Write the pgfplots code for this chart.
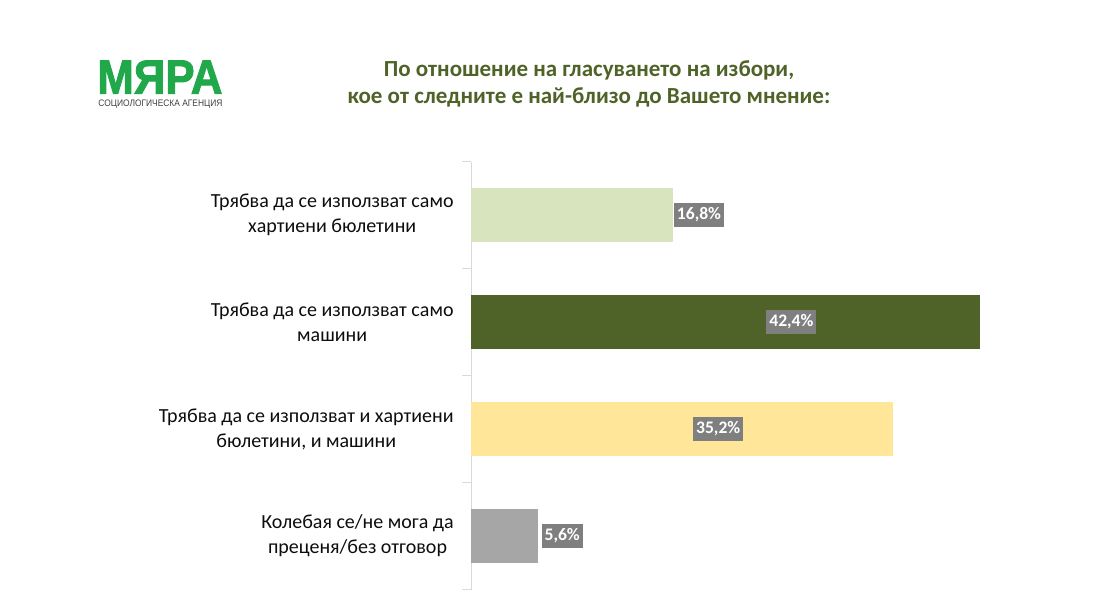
\documentclass[border=0pt]{standalone}
\usepackage{fontspec}
\setmainfont{Carlito}
\newfontfamily\logofont{Liberation Sans}
\newfontfamily\logofontb{Liberation Sans Bold}[FakeBold=2]
\usepackage{graphicx}
\usepackage{pgfplots}
\pgfplotsset{compat=1.18}
\definecolor{bargreen}{HTML}{D7E4BD}
\definecolor{barolive}{HTML}{4F6228}
\definecolor{baryellow}{HTML}{FFE699}
\definecolor{bargray}{HTML}{A6A6A6}
\definecolor{lblgray}{HTML}{7F7F7F}
\definecolor{titlecol}{HTML}{4F6228}
\definecolor{logogreen}{HTML}{20A84B}
\definecolor{axisgray}{HTML}{D9D9D9}
\begin{document}
\begin{tikzpicture}
\path[use as bounding box] (0,0) rectangle (557pt,301pt);
% logo
\node[anchor=south west, inner sep=0pt, text=logogreen] at (48.5pt,254pt)
  {\resizebox{62.5pt}{16.5pt}{\logofontb МЯРА}};
\node[anchor=north west, inner sep=0pt, text=black!75] at (49pt,251.2pt)
  {\resizebox{62pt}{3.3pt}{\logofont СОЦИОЛОГИЧЕСКА АГЕНЦИЯ}};
% title
\node[align=center, text=titlecol, font=\bfseries\fontsize{11.5}{13.5}\selectfont] at (294.5pt,259pt)
  {По отношение на гласуването на избори,\\кое от следните е най-близо до Вашето мнение:};
\begin{axis}[
  at={(235.5pt,6.25pt)}, anchor=south west,
  scale only axis, width=270pt, height=214pt,
  xmin=0, xmax=45, ymin=-0.5, ymax=3.5, y dir=reverse,
  axis x line=none, axis y line=left,
  y axis line style={draw=axisgray, line width=0.5pt, -},
  ytick={0,1,2,3},
  yticklabels={{Трябва да се използват само\\хартиени бюлетини},
               {Трябва да се използват само\\машини},
               {Трябва да се използват и хартиени\\бюлетини, и машини},
               {Колебая се/не мога да\\преценя/без отговор}},
  minor ytick={-0.5,0.5,1.5,2.5,3.5},
  major tick length=0pt,
  minor tick length=4.5pt,
  tick align=outside,
  tick style={draw=axisgray, line width=0.5pt},
  yticklabel style={align=center, inner sep=0pt, xshift=-8.5pt,
     font=\fontsize{10}{12.5}\selectfont, text=black!95},
  bar width=27pt,
  clip=false,
]
\addplot[xbar, bar shift=0pt, draw=none, fill=bargreen] coordinates {(16.8,0)};
\addplot[xbar, bar shift=0pt, draw=none, fill=barolive] coordinates {(42.4,1)};
\addplot[xbar, bar shift=0pt, draw=none, fill=baryellow] coordinates {(35.2,2)};
\addplot[xbar, bar shift=0pt, draw=none, fill=bargray] coordinates {(5.6,3)};
\addplot[draw=none, mark=none, nodes near coords, point meta=explicit symbolic,
  nodes near coords style={anchor=center, fill=lblgray, text=white,
    font=\bfseries\fontsize{8.8}{10}\selectfont, inner xsep=1.5pt, inner ysep=2.2pt}]
  table[meta=lab] {
x y lab
19.0 0 16,8\%
26.7 1 42,4\%
20.6 2 35,2\%
7.6 3 5,6\%
};
\end{axis}
\end{tikzpicture}
\end{document}
